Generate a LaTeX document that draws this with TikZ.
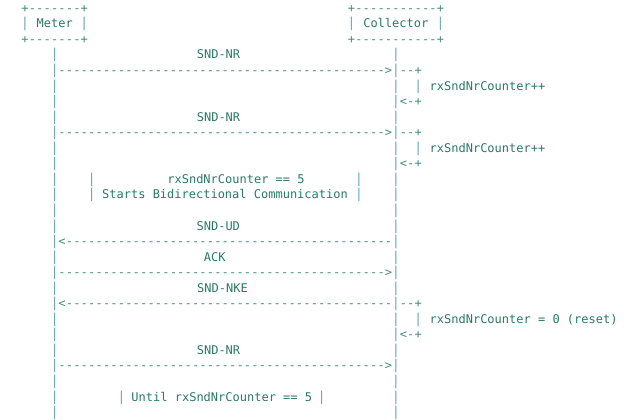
\documentclass[tikz,border=0pt]{standalone}
\usepackage{fontspec}
\newfontfamily\asciimono{DejaVu Sans Mono}
\definecolor{txtc}{HTML}{2B7A64}
\definecolor{dashc}{HTML}{448C7E}
\definecolor{barc}{HTML}{5E9EB4}
\tikzset{
  glyph/.style={inner sep=0pt, anchor=base, font=\asciimono\fontsize{12}{14}\selectfont, text=dashc},
  bar/.style={glyph, text=barc},
  lbl/.style={inner sep=0pt, anchor=base, font=\asciimono\fontsize{12}{14}\selectfont, text=txtc},
  lblw/.style={lbl, anchor=base west},
}
\newcommand{\gx}[1]{25+7.42*(#1)}
\newcommand{\gy}[1]{-12.3-15.55*(#1)}
\newcommand{\glyphs}[4][glyph]{\foreach \cc in {#3}{\node[#1] (c-#2-\cc) at ({\gx{\cc}},{\gy{#2}}) {#4};}}
\newcommand{\hrun}[4]{\foreach \cc in {#2,...,#3}{\node[glyph] (c-#1-\cc) at ({\gx{\cc}},{\gy{#1}}) {#4};}}
\newcommand{\bars}[2]{\glyphs[bar]{#1}{#2}{\scalebox{1}[1.13]{|}}}
\begin{document}
\begin{tikzpicture}[x=1pt,y=1pt]
\useasboundingbox (0,0) rectangle (640,-420);
\fill[white] (0,0) rectangle (640,-420);
% row 0-2 : participant boxes
\glyphs{0}{0,8,44,56}{+}\hrun{0}{1}{7}{-}\hrun{0}{45}{55}{-}
\bars{1}{0,8,44,56}
\node[lbl] (meter) at (54.8,{\gy{1}}) {Meter};
\node[lbl] (collector) at (395.8,{\gy{1}}) {Collector};
\glyphs{2}{0,8,44,56}{+}\hrun{2}{1}{7}{-}\hrun{2}{45}{55}{-}
% row 3-6
\bars{3}{4,50}
\node[lbl] (sndnr1) at (218.5,{\gy{3}}) {SND-NR};
\bars{4}{4,50}\hrun{4}{5}{48}{-}\glyphs{4}{49}{>}\hrun{4}{51}{52}{-}\glyphs{4}{53}{+}
\bars{5}{4,50,53}
\node[lblw] (cnt1) at (429.5,{\gy{5}}) {rxSndNrCounter++};
\bars{6}{4,50}\glyphs{6}{51}{<}\glyphs{6}{52}{-}\glyphs{6}{53}{+}
% row 7-10
\bars{7}{4,50}
\node[lbl] (sndnr2) at (218.5,{\gy{7}}) {SND-NR};
\bars{8}{4,50}\hrun{8}{5}{48}{-}\glyphs{8}{49}{>}\hrun{8}{51}{52}{-}\glyphs{8}{53}{+}
\bars{9}{4,50,53}
\node[lblw] (cnt2) at (429.5,{\gy{9}}) {rxSndNrCounter++};
\bars{10}{4,50}\glyphs{10}{51}{<}\glyphs{10}{52}{-}\glyphs{10}{53}{+}
% row 11-13
\bars{11}{4,9,45,50}
\node[lbl] (cond) at (236,{\gy{11}}) {rxSndNrCounter == 5};
\bars{12}{4,9,45,50}
\node[lbl] (start) at (225,{\gy{12}}) {Starts Bidirectional Communication};
\bars{13}{4,50}
% row 14-17
\bars{14}{4,50}
\node[lbl] (sndud) at (218.3,{\gy{14}}) {SND-UD};
\bars{15}{4,50}\glyphs{15}{5}{<}\hrun{15}{6}{49}{-}
\bars{16}{4,50}
\node[lbl] (ack) at (214.7,{\gy{16}}) {ACK};
\bars{17}{4,50}\hrun{17}{5}{48}{-}\glyphs{17}{49}{>}
% row 18-21
\bars{18}{4,50}
\node[lbl] (sndnke) at (222.5,{\gy{18}}) {SND-NKE};
\bars{19}{4,50}\glyphs{19}{5}{<}\hrun{19}{6}{49}{-}\hrun{19}{51}{52}{-}\glyphs{19}{53}{+}
\bars{20}{4,50,53}
\node[lblw] (reset) at (429.5,{\gy{20}}) {rxSndNrCounter = 0 (reset)};
\bars{21}{4,50}\glyphs{21}{51}{<}\glyphs{21}{52}{-}\glyphs{21}{53}{+}
% row 22-26
\bars{22}{4,50}
\node[lbl] (sndnr3) at (218.5,{\gy{22}}) {SND-NR};
\bars{23}{4,50}\hrun{23}{5}{48}{-}\glyphs{23}{49}{>}
\bars{24}{4,50}
\bars{25}{4,13,40,50}
\node[lbl] (until) at (221.8,{\gy{25}}) {Until rxSndNrCounter == 5};
\bars{26}{4,50}
\end{tikzpicture}
\end{document}
